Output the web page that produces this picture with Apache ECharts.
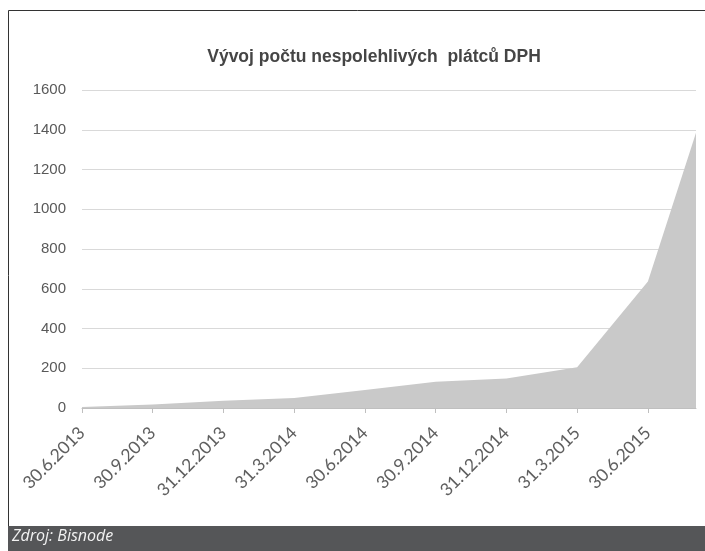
<!DOCTYPE html>
<html>
<head>
<meta charset="utf-8">
<script src="https://cdn.jsdelivr.net/npm/echarts@6/dist/echarts.min.js"></script>
<style>
html,body{margin:0;padding:0;background:#fff;}
#c{width:705px;height:551px;}
</style>
</head>
<body>
<div id="c"></div>
<script>
var titleText = 'Vývoj počtu nespolehlivých  plátců DPH';
var sourceText = 'Zdroj: Bisnode';
var dateLabels = ['30.6.2013','30.9.2013','31.12.2013','31.3.2014','30.6.2014','30.9.2014','31.12.2014','31.3.2015','30.6.2015'];
var datePos = [0, 1, 2, 3, 4, 5, 6, 7, 8, 8.68];
var counts = [5, 17, 37, 50, 90, 132, 149, 205, 636, 1385];
var yTicks = [0, 200, 400, 600, 800, 1000, 1200, 1400, 1600];

var chart = echarts.init(document.getElementById('c'), null, {renderer:'canvas'});
var seriesData = datePos.map(function(p, i){ return [p, counts[i]]; });
var tickVals = dateLabels.map(function(d, i){ return i; });

chart.setOption({
  animation: false,
  backgroundColor: '#ffffff',
  title: {
    text: titleText,
    left: 369, top: 43, textAlign: 'center',
    textStyle: {fontFamily: 'Liberation Sans', fontSize: 17.5, fontWeight: 'bold', color: '#454545'}
  },
  grid: {left: 82, right: 9, top: 90, bottom: 143},
  xAxis: {
    type: 'value', min: 0, max: 8.68, interval: 1,
    axisLine: {show: true, lineStyle: {color: '#bfbfbf', width: 1}},
    axisTick: {show: true, length: 5, lineStyle: {color: '#bfbfbf'}, customValues: tickVals},
    splitLine: {show: false},
    axisLabel: {
      customValues: tickVals,
      rotate: 45, margin: 22,
      fontFamily: 'Lato', fontSize: 17.5, color: '#5f5f5f',
      formatter: function(v){ return dateLabels[Math.round(v)] || ''; }
    }
  },
  yAxis: {
    type: 'value', min: 0, max: 1600, interval: 200,
    axisLine: {show: false}, axisTick: {show: false},
    splitLine: {lineStyle: {color: '#d9d9d9', width: 1}},
    axisLabel: {margin: 16, fontFamily: 'Liberation Sans', fontSize: 15, color: '#595959',
      formatter: function(v){ return yTicks.indexOf(v) >= 0 ? String(v) : ''; }}
  },
  series: [{
    type: 'line', data: seriesData, showSymbol: false, symbol: 'none',
    lineStyle: {width: 0, color: '#c9c9c9'},
    areaStyle: {color: '#c9c9c9', opacity: 1},
    z: 1
  }],
  graphic: [
    {type: 'rect', shape: {x: 8.5, y: 10.5, width: 710, height: 530}, style: {fill: 'none', stroke: '#333333', lineWidth: 1}, z: 10, silent: true},
    {type: 'rect', shape: {x: 8, y: 526, width: 697, height: 25}, style: {fill: '#555658'}, z: 11, silent: true},
    {type: 'text', left: 12, top: 528, style: {text: sourceText, fill: '#f2f2f2', fontFamily: 'Open Sans', fontStyle: 'italic', fontSize: 16}, z: 12, silent: true}
  ]
});
</script>
</body>
</html>
